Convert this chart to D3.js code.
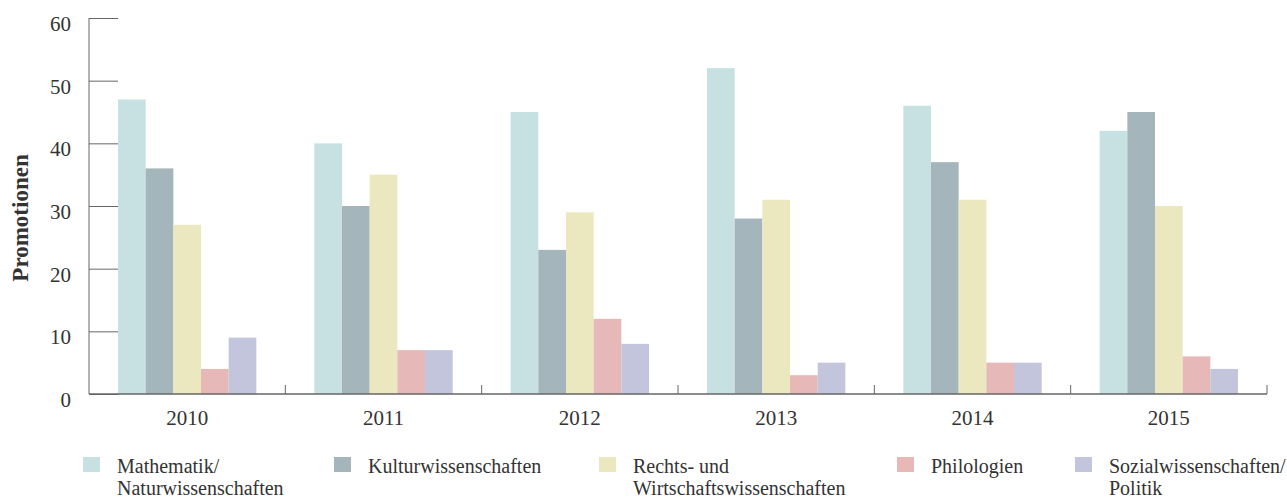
<!DOCTYPE html>
<html lang="de">
<head>
<meta charset="utf-8">
<title>Promotionen</title>
<style>
  body { margin: 0; background: #fff; }
  svg text { font-family: "Liberation Serif", "DejaVu Serif", serif; fill: #333; }
  .axis path, .axis line { stroke: #666; }
</style>
</head>
<body>
<script src="https://d3js.org/d3.v7.min.js"></script>
<script>
// data
const years = ["2010", "2011", "2012", "2013", "2014", "2015"];
const fields = ["Mathematik/\nNaturwissenschaften", "Kulturwissenschaften", "Rechts- und\nWirtschaftswissenschaften", "Philologien", "Sozialwissenschaften/\nPolitik"];
const mathNat = [47, 40, 45, 52, 46, 42];
const kultur = [36, 30, 23, 28, 37, 45];
const rechtWirt = [27, 35, 29, 31, 31, 30];
const philo = [4, 7, 12, 3, 5, 6];
const sozPol = [9, 7, 8, 5, 5, 4];
const yTicks = [0, 10, 20, 30, 40, 50, 60];
const colors = ["#c7e1e2", "#a4b6bc", "#ebe7bf", "#e6b8b8", "#c3c5dc"];

const series = [mathNat, kultur, rechtWirt, philo, sozPol];

const W = 1287, H = 500;
const margin = {top: 18, right: 20, bottom: 106, left: 89};
const width = W - margin.left - margin.right;
const height = H - margin.top - margin.bottom;

const svg = d3.select("body").append("svg")
  .attr("width", W).attr("height", H);
const g = svg.append("g")
  .attr("transform", `translate(${margin.left},${margin.top})`);

const x0 = d3.scaleBand().domain(years).range([0, width]);
const x1 = d3.scaleBand().domain(d3.range(fields.length))
  .range([29, x0.bandwidth() - 29]);
const y = d3.scaleLinear().domain([0, 60]).range([height, 0]);

// bars
years.forEach((yr, i) => {
  series.forEach((s, k) => {
    g.append("rect")
      .attr("x", x0(yr) + x1(k))
      .attr("y", y(s[i]))
      .attr("width", x1.bandwidth())
      .attr("height", y(0) - y(s[i]))
      .attr("fill", colors[k]);
  });
});

// y axis, ticks pointing into the plot
const yAxis = g.append("g").attr("class", "axis")
  .call(d3.axisLeft(y).tickValues(yTicks).tickSize(-29).tickSizeOuter(0).tickPadding(18));
yAxis.selectAll("text").attr("font-size", 21).attr("fill", "#333").attr("dy", "0.6em");
yAxis.select(".domain").attr("d", `M0,${y(60)}V${y(0)}`);

// x axis with short ticks at band edges
const xg = g.append("g").attr("class", "axis")
  .attr("transform", `translate(0,${height})`);
xg.append("line").attr("x1", 0).attr("x2", width).attr("stroke", "#555").attr("stroke-width", 1.5);
years.forEach((yr, i) => {
  xg.append("line")
    .attr("x1", x0(yr) + x0.bandwidth()).attr("x2", x0(yr) + x0.bandwidth())
    .attr("y1", 0).attr("y2", -9).attr("stroke", "#777");
  xg.append("text")
    .attr("x", x0(yr) + x0.bandwidth() / 2).attr("y", 31)
    .attr("text-anchor", "middle").attr("font-size", 21)
    .text(yr);
});

// y label
svg.append("text")
  .attr("transform", `translate(28,${margin.top + 200}) rotate(-90)`)
  .attr("text-anchor", "middle").attr("font-size", 23).attr("font-weight", "bold")
  .text("Promotionen");

// legend
const legendX = [83, 334, 599, 897, 1075];
fields.forEach((f, k) => {
  const lg = svg.append("g").attr("transform", `translate(${legendX[k]},457)`);
  lg.append("rect").attr("width", 17).attr("height", 15).attr("fill", colors[k]);
  f.split("\n").forEach((line, j) => {
    lg.append("text").attr("x", 34).attr("y", 16 + j * 22)
      .attr("font-size", 20).text(line);
  });
});
</script>
</body>
</html>
